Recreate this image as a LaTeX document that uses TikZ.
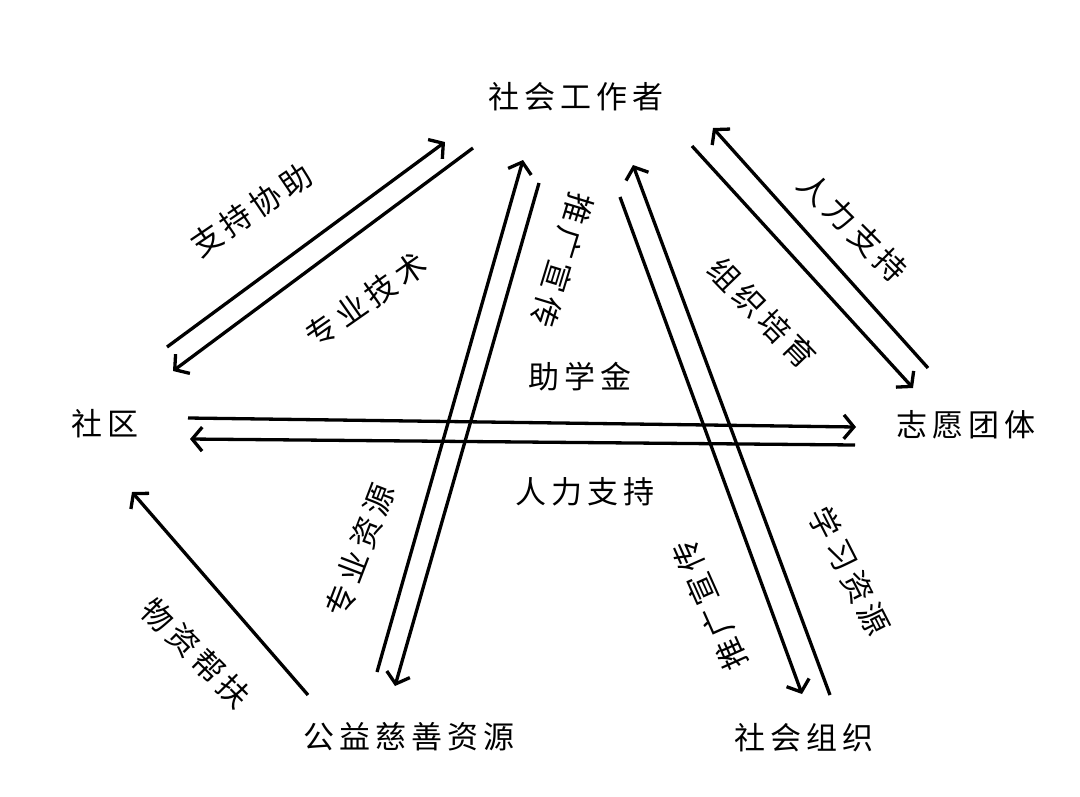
\documentclass[tikz,border=0pt]{standalone}
\usepackage{fontspec}
\usetikzlibrary{arrows.meta}
\newfontfamily\cjk[LetterSpace=16]{Noto Sans CJK SC}
\tikzset{
  lbl/.style={font=\cjk\fontsize{31pt}{33pt}\selectfont, inner sep=0pt, text=black},
  conn/.style={line width=3.3pt, -{Straight Barb[length=10pt,width=24pt]}},
  plain/.style={line width=3.3pt}
}
\begin{document}
\begin{tikzpicture}[x=1pt,y=-1pt]
\useasboundingbox (0,0) rectangle (1080,796);
\fill[white] (0,0) rectangle (1080,796);
% main nodes
\node[lbl] (sg) at (576,97) {社会工作者};
\node[lbl] (sq) at (105,424) {社区};
\node[lbl] (zy) at (966,425) {志愿团体};
\node[lbl] (gy) at (409,737) {公益慈善资源};
\node[lbl] (zz) at (804,738) {社会组织};
% endpoints
\coordinate (a1s) at (167,347); \coordinate (a1e) at (445,142);
\coordinate (a2s) at (473,148); \coordinate (a2e) at (173,371);
\coordinate (a3s) at (188,418); \coordinate (a3e) at (856,427);
\coordinate (a4s) at (855,445); \coordinate (a4e) at (190,439);
\coordinate (a5s) at (377,672); \coordinate (a5e) at (523,160);
\coordinate (a6s) at (539,183); \coordinate (a6e) at (395,686);
\coordinate (a7s) at (620,197); \coordinate (a7e) at (802,694);
\coordinate (a8s) at (830,695); \coordinate (a8e) at (633,165);
\coordinate (a9s) at (692,146); \coordinate (a9e) at (913,388);
\coordinate (a10s) at (928,368); \coordinate (a10e) at (713,128);
\coordinate (a11s) at (308,695); \coordinate (a11e) at (132,492);
% connectors
\draw[conn] (a1s) -- (a1e);
\draw[conn] (a2s) -- (a2e);
\draw[conn] (a3s) -- (a3e);
\draw[conn] (a4s) -- (a4e);
\draw[conn] (a5s) -- (a5e);
\draw[conn] (a6s) -- (a6e);
\draw[conn] (a7s) -- (a7e);
\draw[conn] (a8s) -- (a8e);
\draw[conn] (a9s) -- (a9e);
\draw[conn] (a10s) -- (a10e);
\draw[conn] (a11s) -- (a11e);
% labels
\node[lbl, rotate=34] (l1) at (251,210) {支持协助};
\node[lbl, rotate=35] (l2) at (366,300) {专业技术};
\node[lbl] (l3) at (580,377) {助学金};
\node[lbl] (l4) at (585,492) {人力支持};
\node[lbl, rotate=-107] (l5) at (562,260) {推广宣传};
\node[lbl, rotate=69] (l6) at (360,550) {专业资源};
\node[lbl, rotate=114] (l7) at (710,605) {推广宣传};
\node[lbl, rotate=-63] (l8) at (850,571) {学习资源};
\node[lbl, rotate=-45] (l9) at (853,227) {人力支持};
\node[lbl, rotate=-46] (l10) at (762,313) {组织培育};
\node[lbl, rotate=-45] (l11) at (196,653) {物资帮扶};
\end{tikzpicture}
\end{document}
